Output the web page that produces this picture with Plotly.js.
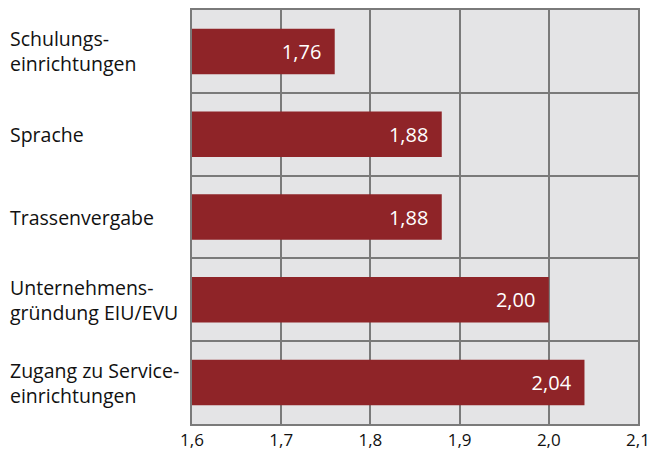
<!DOCTYPE html>
<html><head><meta charset="utf-8">
<script src="https://cdn.plot.ly/plotly-3.0.1.min.js"></script>
<style>body{margin:0;background:#fff}#c{width:655px;height:454px}</style>
</head><body><div id="c"></div>
<script>
const categories = ["Schulungs-<br>einrichtungen", "Sprache", "Trassenvergabe", "Unternehmens-<br>gründung EIU/EVU", "Zugang zu Service-<br>einrichtungen"];
const values = [1.76, 1.88, 1.88, 2.00, 2.04];
const xTicks = [1.6, 1.7, 1.8, 1.9, 2.0, 2.1];

const idx = categories.map((c, i) => i);
const W = 655, L = 192, R = 17;
const plotW = W - L - R;

const trace = {
  type: 'bar', orientation: 'h',
  x: values, y: idx, base: 0,
  width: 0.55,
  marker: {color: '#8f2428'},
  texttemplate: '%{x:.2f}\u00a0\u00a0',
  textposition: 'inside', insidetextanchor: 'end',
  textfont: {color: '#ffffff', size: 20, family: 'Open Sans, sans-serif'},
  hoverinfo: 'none', cliponaxis: true
};

const gridVals = [];
for (let i = 0; i <= categories.length; i++) gridVals.push(i - 0.5);

const annotations = categories.map((c, i) => ({
  text: c, xref: 'paper', yref: 'y',
  x: (8 - L) / plotW, y: i, xanchor: 'left', yanchor: 'middle',
  align: 'left', showarrow: false,
  font: {size: 19.5, color: '#111111', family: 'Open Sans, sans-serif'}
}));

const layout = {
  width: 655, height: 454,
  margin: {l: L, r: R, t: 10, b: 30},
  paper_bgcolor: '#ffffff', plot_bgcolor: '#e4e4e6',
  separators: ',.',
  showlegend: false,
  xaxis: {
    range: [1.6, 2.1], tickvals: xTicks, tickformat: '.1f',
    showgrid: true, gridcolor: '#7a7a7a', gridwidth: 2,
    showline: true, linecolor: '#7a7a7a', linewidth: 2, mirror: true,
    ticks: '', zeroline: false, ticklabelstandoff: 0,
    tickfont: {size: 17, color: '#111111', family: 'Open Sans, sans-serif'}
  },
  yaxis: {
    range: [categories.length - 0.5, -0.5],
    tickvals: gridVals, showticklabels: false,
    showgrid: true, gridcolor: '#7a7a7a', gridwidth: 2,
    showline: true, linecolor: '#7a7a7a', linewidth: 2, mirror: true,
    ticks: '', zeroline: false
  },
  annotations: annotations
};

Plotly.newPlot('c', [trace], layout, {staticPlot: true, displayModeBar: false});
</script></body></html>
